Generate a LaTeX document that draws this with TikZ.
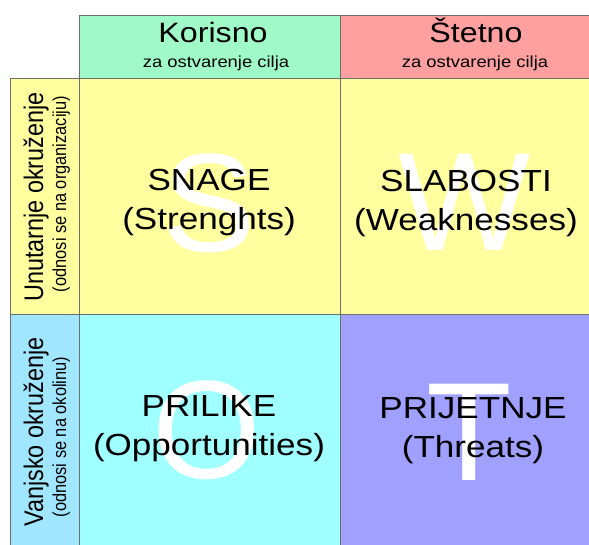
\documentclass[tikz,border=0pt]{standalone}
\usepackage{fontspec}
\usepackage{graphicx}
\setmainfont{Liberation Sans}
\definecolor{hdrgreen}{HTML}{A0FAC8}
\definecolor{hdrred}{HTML}{FFA0A0}
\definecolor{cellyellow}{HTML}{FFFFA0}
\definecolor{cellcyan}{HTML}{A0FFFF}
\definecolor{cellblue}{HTML}{A0E6FF}
\definecolor{cellpurple}{HTML}{A0A0FF}
\definecolor{gridline}{HTML}{6E6E6E}
\newcommand{\hw}[1]{\scalebox{1.15}[1]{#1}}
\newcommand{\vw}[1]{\scalebox{1}[1.15]{#1}}
\tikzset{
  cell/.style={draw=gridline, line width=0.8pt},
  bigletter/.style={anchor=base, inner sep=0pt, text=white, font=\fontsize{140}{140}\selectfont},
  maintext/.style={anchor=base, inner sep=0pt, align=center, font=\fontsize{30.5}{39}\selectfont},
  hdrtext/.style={anchor=base, inner sep=0pt, font=\fontsize{28}{28}\selectfont},
  subtext/.style={anchor=base, inner sep=0pt, font=\fontsize{16}{16}\selectfont},
  sidetext/.style={anchor=base, inner sep=0pt, rotate=90, font=\fontsize{23.4}{23.4}\selectfont},
  sidesub/.style={anchor=base, inner sep=0pt, rotate=90, font=\fontsize{16.4}{16.4}\selectfont},
}
\begin{document}
\begin{tikzpicture}[x=1pt, y=-1pt]
\useasboundingbox (0,0) rectangle (589,544);
% cells
\path[fill=hdrgreen, cell] (79,15) rectangle (340,78);
\path[fill=hdrred, cell] (340,15) rectangle (620,78);
\path[fill=cellyellow, cell] (10,78) rectangle (79,314);
\path[fill=cellblue, cell] (10,314) rectangle (79,560);
\path[fill=cellyellow, cell] (79,78) rectangle (340,314);
\path[fill=cellyellow, cell] (340,78) rectangle (620,314);
\path[fill=cellcyan, cell] (79,314) rectangle (340,560);
\path[fill=cellpurple, cell] (340,314) rectangle (620,560);
% big letters
\node[bigletter] (bigS) at (209,251) {S};
\node[bigletter] (bigW) at (465,250) {W};
\node[bigletter] (bigO) at (207,478) {O};
\node[bigletter] (bigT) at (469,480) {T};
% headers
\node[hdrtext] (korisno) at (213,42) {\hw{Korisno}};
\node[subtext] (korisnoSub) at (216,67) {\hw{za ostvarenje cilja}};
\node[hdrtext] (stetno) at (476,42) {\hw{Štetno}};
\node[subtext] (stetnoSub) at (475,67) {\hw{za ostvarenje cilja}};
% side labels
\node[sidetext] (unutarnje) at (43,197) {\vw{Unutarnje okruženje}};
\node[sidesub] (unutarnjeSub) at (66,194) {\vw{(odnosi se na organizaciju)}};
\node[sidetext] (vanjsko) at (43,432) {\vw{Vanjsko okruženje}};
\node[sidesub] (vanjskoSub) at (66,437) {\vw{(odnosi se na okolinu)}};
% quadrant texts (base anchor = baseline of the last line)
\node[maintext] (snage) at (209,229) {\hw{SNAGE}\\\hw{(Strenghts)}};
\node[maintext] (slabosti) at (466,230) {\hw{SLABOSTI}\\\hw{(Weaknesses)}};
\node[maintext] (prilike) at (209,455) {\hw{PRILIKE}\\\hw{(Opportunities)}};
\node[maintext] (prijetnje) at (473,457) {\hw{PRIJETNJE}\\\hw{(Threats)}};
\end{tikzpicture}
\end{document}
